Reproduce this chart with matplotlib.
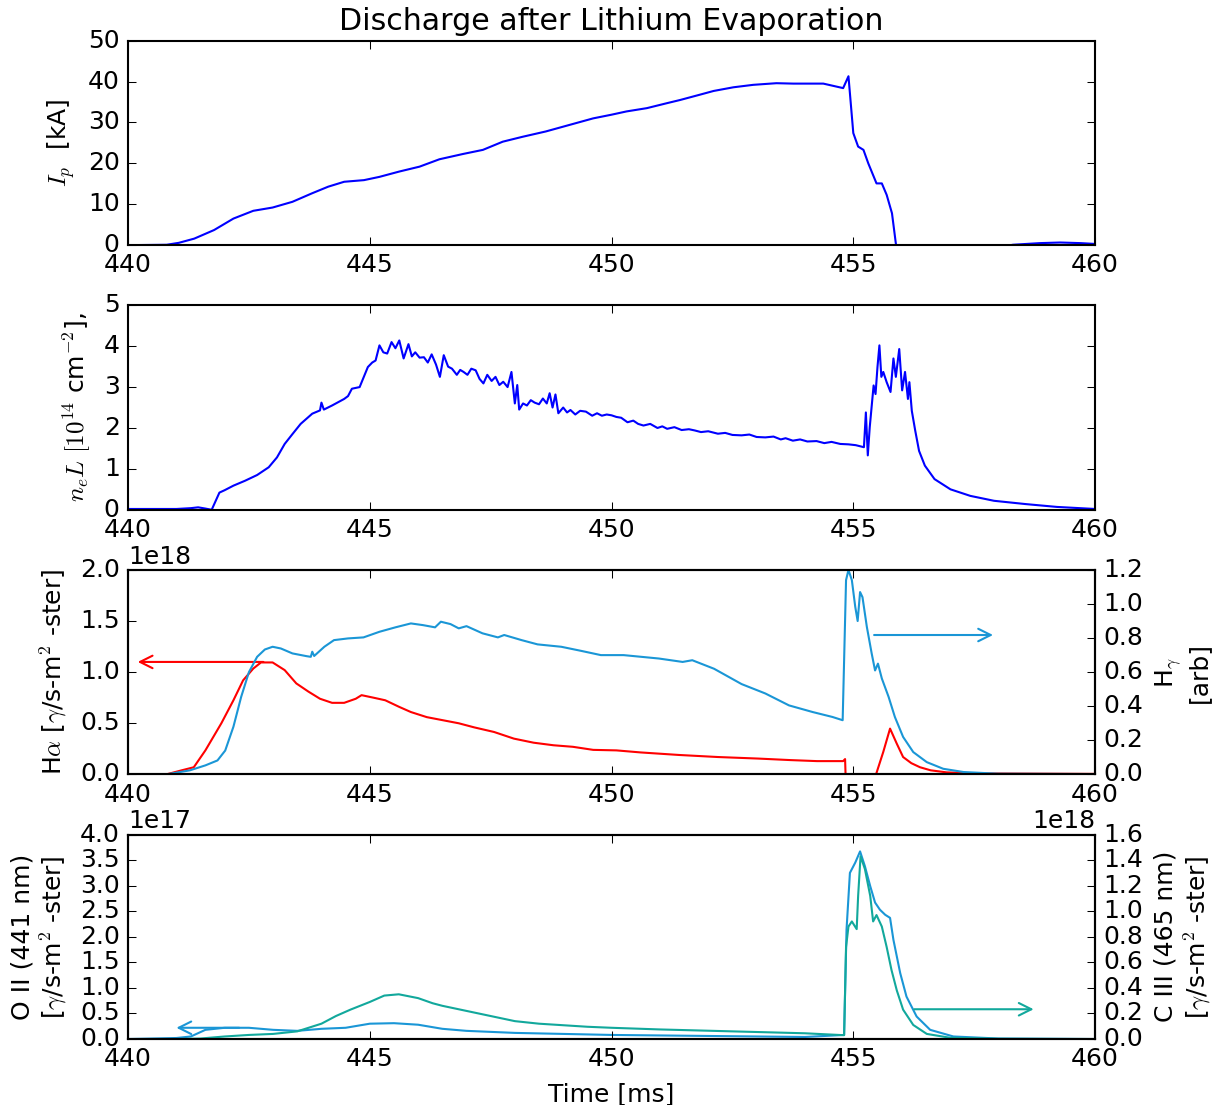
import numpy as np
import matplotlib
matplotlib.use('Agg')
import matplotlib.pyplot as plt

plt.style.use('classic')

# time axis [ms]
xlim = (440, 460)
xticks = [440, 445, 450, 455, 460]

# plasma current [kA]
ip_t = [440.0, 440.8, 441.05, 441.37, 441.78, 442.18, 442.59, 442.99, 443.4, 443.81,
        444.14, 444.47, 444.88, 445.2, 445.61, 446.03, 446.44, 446.93, 447.34, 447.75,
        448.16, 448.64, 449.13, 449.62, 450.0, 450.31, 450.73, 451.14, 451.42, 451.83,
        452.11, 452.52, 452.93, 453.41, 453.76, 454.38, 454.79, 454.9, 455.0, 455.1,
        455.21, 455.31, 455.48, 455.59, 455.69, 455.8, 455.88, 455.95, 456.2, 457.0,
        457.8, 458.3, 458.86, 459.28, 459.7, 460.0]
ip_v = [0.0, 0.1, 0.57, 1.6, 3.7, 6.5, 8.4, 9.2, 10.6, 12.7,
        14.3, 15.5, 15.9, 16.7, 18.0, 19.2, 21.0, 22.3, 23.3, 25.3,
        26.5, 27.8, 29.4, 31.0, 31.9, 32.7, 33.5, 34.7, 35.5, 36.8,
        37.7, 38.6, 39.2, 39.6, 39.5, 39.5, 38.4, 41.3, 27.4, 24.1,
        23.3, 20.0, 15.1, 15.1, 12.3, 7.8, 0.4, -3.0, -8.0, -6.0,
        -1.0, 0.1, 0.5, 0.65, 0.5, 0.3]

# line density [1e14 cm^-2]
ne_t = [440.0, 441.0, 441.3, 441.45, 441.6, 441.73, 441.89, 442.0, 442.18, 442.42,
        442.67, 442.91, 443.08, 443.24, 443.4, 443.57, 443.81, 443.97, 444.0, 444.05,
        444.22, 444.47, 444.55, 444.63, 444.79, 444.96, 445.05, 445.12, 445.2, 445.28,
        445.36, 445.45, 445.53, 445.61, 445.7, 445.8, 445.87, 445.94, 446.03, 446.12,
        446.2, 446.28, 446.37, 446.45, 446.53, 446.62, 446.7, 446.8, 446.87, 446.94,
        447.02, 447.1, 447.19, 447.27, 447.35, 447.43, 447.52, 447.6, 447.68, 447.76,
        447.85, 447.93, 448.0, 448.05, 448.09, 448.17, 448.25, 448.33, 448.41, 448.5,
        448.58, 448.66, 448.72, 448.78, 448.84, 448.9, 449.0, 449.08, 449.15, 449.25,
        449.35, 449.47, 449.6, 449.7, 449.8, 449.9, 450.0, 450.1, 450.2, 450.33,
        450.45, 450.55, 450.66, 450.8, 450.95, 451.05, 451.15, 451.3, 451.45, 451.6,
        451.72, 451.85, 452.0, 452.2, 452.35, 452.5, 452.69, 452.85, 453.0, 453.18,
        453.35, 453.5, 453.6, 453.75, 453.9, 454.05, 454.24, 454.4, 454.55, 454.73,
        454.9, 455.05, 455.22, 455.26, 455.3, 455.34, 455.38, 455.42, 455.46, 455.5,
        455.54, 455.58, 455.62, 455.69, 455.77, 455.83, 455.88, 455.95, 456.01, 456.07,
        456.13, 456.16, 456.21, 456.28, 456.36, 456.48, 456.68, 457.01, 457.42, 457.91,
        458.56, 459.21, 460.0]
ne_v = [0.02, 0.02, 0.04, 0.06, 0.03, 0.0, 0.42, 0.48, 0.59, 0.71,
        0.85, 1.04, 1.28, 1.61, 1.85, 2.1, 2.35, 2.43, 2.62, 2.45,
        2.55, 2.71, 2.78, 2.96, 3.0, 3.49, 3.6, 3.65, 4.02, 3.85,
        3.82, 4.1, 3.95, 4.14, 3.7, 4.05, 3.75, 3.85, 3.72, 3.73,
        3.6, 3.8, 3.55, 3.25, 3.78, 3.5, 3.45, 3.3, 3.42, 3.37,
        3.3, 3.45, 3.41, 3.2, 3.09, 3.3, 3.15, 3.25, 3.05, 3.13,
        3.0, 3.37, 2.6, 3.05, 2.45, 2.6, 2.55, 2.68, 2.62, 2.58,
        2.72, 2.6, 2.85, 2.5, 2.82, 2.36, 2.5, 2.38, 2.44, 2.33,
        2.42, 2.4, 2.3, 2.36, 2.3, 2.33, 2.31, 2.27, 2.25, 2.14,
        2.18, 2.1, 2.06, 2.1, 2.0, 2.04, 1.98, 2.02, 1.95, 1.97,
        1.94, 1.9, 1.92, 1.86, 1.88, 1.83, 1.82, 1.84, 1.78, 1.77,
        1.79, 1.72, 1.75, 1.69, 1.72, 1.67, 1.68, 1.63, 1.66, 1.61,
        1.6, 1.58, 1.53, 2.38, 1.33, 2.02, 2.54, 3.04, 2.83, 3.49,
        4.02, 3.25, 3.37, 3.12, 2.88, 3.7, 3.25, 3.93, 2.92, 3.37,
        2.71, 3.12, 2.42, 1.94, 1.44, 1.08, 0.75, 0.5, 0.34, 0.22,
        0.14, 0.07, 0.02]

# H-alpha [1e18 photons/s-m2-ster]
ha_t = [440.0, 440.79, 441.11, 441.36, 441.6, 441.93, 442.18, 442.38, 442.59, 442.75,
        442.99, 443.24, 443.48, 443.73, 443.97, 444.22, 444.47, 444.71, 444.83, 445.08,
        445.32, 445.61, 445.85, 446.18, 446.51, 446.84, 447.16, 447.57, 447.98, 448.39,
        448.8, 449.2, 449.62, 450.1, 450.6, 451.4, 452.2, 453.03, 453.7, 454.25,
        454.79, 454.83, 454.84, 455.47, 455.62, 455.76, 455.9, 456.03, 456.2, 456.38,
        456.6, 456.93, 457.5, 458.5, 460.0]
ha_v = [0.0, 0.0, 0.04, 0.07, 0.235, 0.5, 0.725, 0.92, 1.035, 1.095,
        1.095, 1.02, 0.89, 0.81, 0.74, 0.70, 0.70, 0.74, 0.775, 0.75,
        0.725, 0.66, 0.61, 0.56, 0.53, 0.50, 0.46, 0.415, 0.35, 0.31,
        0.285, 0.27, 0.24, 0.235, 0.215, 0.19, 0.17, 0.155, 0.14, 0.13,
        0.13, 0.15, 0.0, 0.0, 0.22, 0.448, 0.3, 0.17, 0.11, 0.07,
        0.04, 0.02, 0.01, 0.008, 0.005]

# H-gamma [arb]
hg_t = [440.0, 440.79, 441.28, 441.6, 441.85, 442.01, 442.18, 442.34, 442.5, 442.67,
        442.83, 442.99, 443.16, 443.4, 443.69, 443.78, 443.81, 443.85, 444.06, 444.26,
        444.55, 444.87, 445.2, 445.53, 445.85, 446.1, 446.35, 446.47, 446.67, 446.84,
        447.0, 447.33, 447.65, 447.78, 448.14, 448.47, 448.96, 449.37, 449.78, 450.25,
        450.98, 451.47, 451.67, 452.12, 452.69, 453.18, 453.67, 454.16, 454.57, 454.78,
        454.81, 454.85, 454.9, 454.97, 455.04, 455.09, 455.14, 455.19, 455.28, 455.38,
        455.45, 455.51, 455.59, 455.73, 455.86, 456.03, 456.24, 456.52, 456.86, 457.28,
        458.0, 460.0]
hg_v = [0.0, 0.0, 0.024, 0.053, 0.082, 0.14, 0.28, 0.455, 0.60, 0.69,
        0.733, 0.749, 0.739, 0.71, 0.694, 0.69, 0.72, 0.695, 0.749, 0.788,
        0.798, 0.804, 0.837, 0.863, 0.886, 0.876, 0.863, 0.896, 0.882, 0.857,
        0.87, 0.828, 0.804, 0.818, 0.788, 0.763, 0.749, 0.725, 0.70, 0.70,
        0.68, 0.66, 0.67, 0.62, 0.53, 0.475, 0.405, 0.366, 0.337, 0.318,
        0.67, 1.14, 1.2, 1.14, 0.984, 0.90, 1.07, 1.04, 0.866, 0.71,
        0.61, 0.65, 0.563, 0.455, 0.337, 0.22, 0.131, 0.072, 0.033, 0.014,
        0.004, 0.002]

# O II 441 nm [1e17 photons/s-m2-ster]
o2_t = [440.0, 441.0, 441.3, 441.6, 442.0, 442.5, 443.0, 443.5, 444.0, 444.5,
        445.0, 445.5, 446.0, 446.5, 447.0, 448.0, 449.0, 450.0, 451.0, 452.0,
        453.0, 454.0, 454.81, 454.86, 454.93, 455.04, 455.14, 455.24, 455.35, 455.45,
        455.55, 455.66, 455.76, 455.83, 455.97, 456.1, 456.31, 456.59, 457.07, 458.0,
        460.0]
o2_v = [0.0, 0.02, 0.05, 0.18, 0.22, 0.22, 0.18, 0.16, 0.2, 0.22,
        0.3, 0.31, 0.28, 0.2, 0.16, 0.12, 0.1, 0.08, 0.07, 0.06,
        0.05, 0.04, 0.08, 2.14, 3.25, 3.45, 3.67, 3.38, 2.99, 2.67,
        2.53, 2.43, 2.37, 1.94, 1.29, 0.83, 0.44, 0.18, 0.05, 0.01,
        0.0]

# C III 465 nm [1e18 photons/s-m2-ster]
c3_t = [440.0, 441.0, 441.5, 442.0, 442.5, 443.0, 443.5, 444.0, 444.3, 444.6,
        445.0, 445.3, 445.6, 446.0, 446.3, 446.5, 447.0, 447.5, 448.0, 448.5,
        449.0, 449.5, 450.0, 451.0, 452.0, 453.0, 454.0, 454.81, 454.85, 454.9,
        454.97, 455.07, 455.1, 455.15, 455.24, 455.35, 455.41, 455.48, 455.59, 455.69,
        455.79, 455.9, 456.03, 456.24, 456.52, 457.0, 458.0, 460.0]
c3_v = [0.0, 0.0, 0.004, 0.02, 0.032, 0.04, 0.06, 0.12, 0.18, 0.23,
        0.29, 0.34, 0.35, 0.32, 0.28, 0.26, 0.22, 0.18, 0.14, 0.12,
        0.108, 0.096, 0.088, 0.075, 0.065, 0.055, 0.045, 0.03, 0.72, 0.88,
        0.92, 0.86, 1.12, 1.43, 1.33, 1.12, 0.92, 0.97, 0.88, 0.72,
        0.54, 0.38, 0.23, 0.11, 0.04, 0.01, 0.002, 0.0]

lightblue = '#1a96d6'
teal = '#12a89c'
arrow = '->,head_length=0.5,head_width=0.25'

fig, (ax1, ax2, ax3, ax4) = plt.subplots(4, 1, figsize=(1217 / 150.0, 1105 / 150.0))
fig.subplots_adjust(left=0.1052, right=0.8998, top=0.9632, bottom=0.0597, hspace=0.294)

# current
ax1.plot(ip_t, ip_v, 'b')
ax1.set_xlim(xlim)
ax1.set_ylim(0, 50)
ax1.set_xticks(xticks)
ax1.set_ylabel('$I_p$  [kA]')
ax1.set_title('Discharge after Lithium Evaporation')

# density
ax2.plot(ne_t, ne_v, 'b')
ax2.set_xlim(xlim)
ax2.set_ylim(0, 5)
ax2.set_xticks(xticks)
ax2.set_ylabel('$n_e L\\ [10^{14}$ cm$^{-2}$],')

# balmer lines
ax3.plot(ha_t, np.array(ha_v) * 1e18, 'r')
ax3.set_xlim(xlim)
ax3.set_ylim(0, 2e18)
ax3.set_xticks(xticks)
ax3.set_ylabel('H$\\alpha$ [$\\gamma$/s-m$^2$ -ster]')
ax3.annotate('', xy=(440.2, 1.1e18), xytext=(442.8, 1.1e18),
             arrowprops=dict(arrowstyle=arrow, color='r', lw=1, shrinkA=0, shrinkB=0))
ax3b = ax3.twinx()
ax3b.plot(hg_t, hg_v, color=lightblue)
ax3b.set_xlim(xlim)
ax3b.set_ylim(0, 1.2)
ax3b.set_ylabel('H$_\\gamma$\n[arb]')
ax3b.annotate('', xy=(457.89, 0.818), xytext=(455.43, 0.818),
              arrowprops=dict(arrowstyle=arrow, color=lightblue, lw=1, shrinkA=0, shrinkB=0))

# impurity lines
ax4.plot(o2_t, np.array(o2_v) * 1e17, color=lightblue)
ax4.set_xlim(xlim)
ax4.set_ylim(0, 4e17)
ax4.set_xticks(xticks)
ax4.set_ylabel('O II (441 nm)\n[$\\gamma$/s-m$^2$ -ster]')
ax4.set_xlabel('Time [ms]')
ax4.annotate('', xy=(441.0, 0.22e17), xytext=(442.3, 0.22e17),
             arrowprops=dict(arrowstyle=arrow, color=lightblue, lw=1, shrinkA=0, shrinkB=0))
ax4b = ax4.twinx()
ax4b.plot(c3_t, np.array(c3_v) * 1e18, color=teal)
ax4b.set_xlim(xlim)
ax4b.set_ylim(0, 1.6e18)
ax4b.set_ylabel('C III (465 nm)\n[$\\gamma$/s-m$^2$ -ster]')
ax4b.annotate('', xy=(458.73, 0.233e18), xytext=(456.26, 0.233e18),
              arrowprops=dict(arrowstyle=arrow, color=teal, lw=1, shrinkA=0, shrinkB=0))

fig.savefig('out.png', dpi=150)
